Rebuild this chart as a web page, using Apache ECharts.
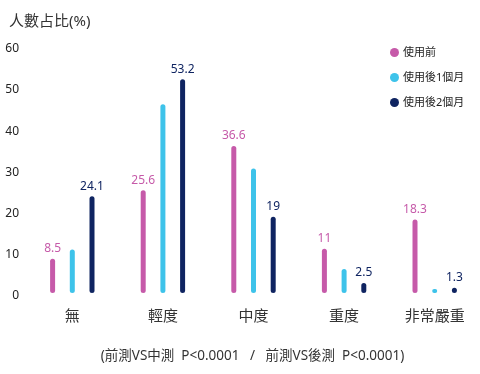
<!DOCTYPE html>
<html>
<head>
<meta charset="utf-8">
<script src="https://cdn.jsdelivr.net/npm/echarts@6/dist/echarts.min.js"></script>
<style>html,body{margin:0;padding:0;background:#fff}#c{width:480px;height:374px}</style>
</head>
<body>
<div id="c"></div>
<script>
const categories = ['無', '輕度', '中度', '重度', '非常嚴重'];
const seriesNames = ['使用前', '使用後1個月', '使用後2個月'];
const before = [8.5, 25.6, 36.6, 11, 18.3];
const after1 = [10.8, 47.0, 31.0, 6.0, 1.0];
const after2 = [24.1, 53.2, 19, 2.5, 1.3];
const showLabel = [true, false, true];
const colors = ['#c65aa9', '#3ec3ea', '#0f2461'];
const yTicks = { min: 0, max: 60, interval: 10 };
const titleText = '人數占比(%)';
const noteText = '(前測VS中測  P<0.0001   /   前測VS後測  P<0.0001)';

const FONT = "'Noto Sans', 'Noto Sans CJK TC', sans-serif";
const chart = echarts.init(document.getElementById('c'), null, { renderer: 'canvas' });
const data = [before, after1, after2];
chart.setOption({
  animation: false,
  textStyle: { fontFamily: FONT },
  title: {
    text: titleText, left: 4, top: 9,
    textStyle: { fontSize: 15, fontWeight: 'normal', color: '#333', fontFamily: FONT }
  },
  legend: {
    orient: 'vertical', left: 385, top: 42,
    itemWidth: 9, itemHeight: 9, itemGap: 14, icon: 'circle',
    textStyle: { fontSize: 11, color: '#222', fontFamily: FONT, padding: [0, 0, 0, -1] },
    data: seriesNames
  },
  graphic: [{
    type: 'text', x: 252.5, y: 356,
    style: { text: noteText, fontSize: 13.5, fill: '#333', fontFamily: FONT,
             textAlign: 'center', textVerticalAlign: 'middle' }
  }],
  grid: [
    { left: 27, top: 52, width: 455, height: 241 },
    { left: 27, top: 48.7, width: 455, height: 247.3 }
  ],
  xAxis: [{
    type: 'category', data: categories, gridIndex: 0,
    axisLine: { show: false }, axisTick: { show: false },
    axisLabel: { margin: 16, fontSize: 15, color: '#333', fontFamily: FONT }
  }, {
    type: 'category', data: categories, gridIndex: 1, show: false
  }],
  yAxis: [{
    type: 'value', gridIndex: 0, min: yTicks.min, max: yTicks.max, interval: yTicks.interval,
    show: false
  }, {
    type: 'value', gridIndex: 1, min: yTicks.min, max: yTicks.max, interval: yTicks.interval,
    axisLine: { show: false }, axisTick: { show: false }, splitLine: { show: false },
    axisLabel: { margin: 8, fontSize: 12, color: '#222', fontFamily: FONT }
  }],
  series: seriesNames.map((n, i) => ({
    name: n, type: 'bar', data: data[i], xAxisIndex: 0, yAxisIndex: 0,
    barWidth: 5, barGap: '294%',
    itemStyle: { color: colors[i], borderRadius: 2.5 },
    label: {
      show: showLabel[i], position: 'top', distance: 4,
      color: colors[i], fontSize: 12, fontFamily: FONT
    }
  }))
});
</script>
</body>
</html>
